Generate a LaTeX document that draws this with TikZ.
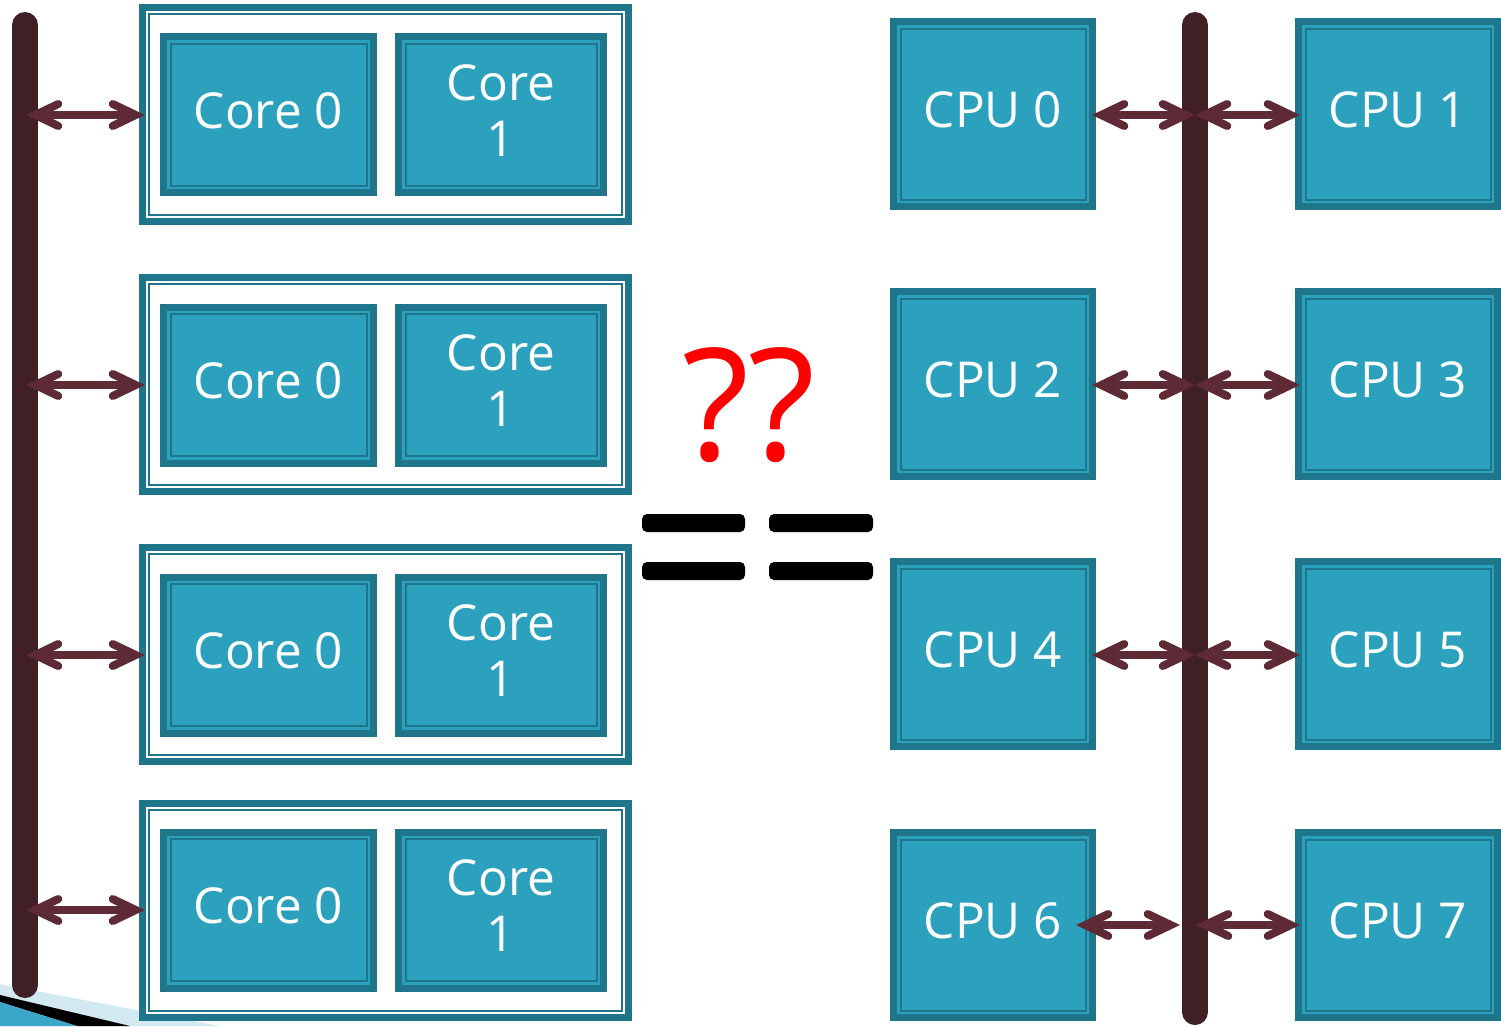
\documentclass[tikz,border=0pt]{standalone}
\usepackage{fontspec}
\setmainfont{Open Sans}
\usetikzlibrary{arrows.meta,calc}

\definecolor{boxfill}{RGB}{44,161,190}
\definecolor{boxedge}{RGB}{31,117,138}
\definecolor{linkcol}{RGB}{94,42,54}
\definecolor{buscol}{RGB}{64,31,37}
\definecolor{swooshlight}{RGB}{211,233,241}
\definecolor{swooshblue}{RGB}{58,166,200}

\tikzset{
  % teal box: thick outer border plus a thin inner rule
  unitbox/.style={draw=boxedge, fill=boxfill, line width=7pt, text=white,
    font=\fontsize{49.5}{56}\selectfont, align=center, inner sep=0pt, text depth=8pt,
    path picture={\draw[boxedge, line width=2pt]
      ($(path picture bounding box.north west)+(7pt,-7pt)$) rectangle
      ($(path picture bounding box.south east)+(-7pt,7pt)$);}},
  corebox/.style={unitbox, minimum height=156pt},
  cpubox/.style={unitbox, minimum width=199pt, minimum height=185pt},
  % white package frame: thick border and a thin rule just inside
  groupbox/.style={draw=boxedge, fill=white, line width=7pt, inner sep=0pt,
    minimum width=486pt, minimum height=214pt,
    path picture={\draw[boxedge, line width=2pt]
      ($(path picture bounding box.north west)+(6.5pt,-6.5pt)$) rectangle
      ($(path picture bounding box.south east)+(-6.5pt,6.5pt)$);}},
  bus/.style={buscol, line width=26pt, line cap=round},
  linkbarb/.tip={Straight Barb[length=23pt, width=22pt, line cap=round, line join=miter]},
  link/.style={linkcol, line width=8pt, {linkbarb}-{linkbarb}},
  bar/.style={black, rounded corners=5pt}
}

\begin{document}
\begin{tikzpicture}[x=1pt, y=-1pt]
  \fill[white] (0,0) rectangle (1501,1026);
  \useasboundingbox (0,0) rectangle (1501,1026);

  % slide corner swoosh
  \fill[swooshlight] (0,984) -- (220,1026) -- (0,1026) -- cycle;
  \fill[black] (0,995) -- (130,1026) -- (77,1026) -- (0,1002) -- cycle;
  \fill[swooshblue] (0,1002) -- (77,1026) -- (0,1026) -- cycle;

  % buses
  \draw[bus] (25,25) -- (25,985);
  \draw[bus] (1195,25) -- (1195,1012);

  % dual-core packages
  \foreach \r/\gy/\cy in {1/114.5/114.5, 2/384.5/385, 3/654.5/655, 4/910/910} {
    \node[groupbox] (grp\r) at (385.5,\gy) {};
    \node[corebox, minimum width=210pt] (corezero\r) at (268.5,\cy) {Core 0};
    \node[corebox, minimum width=205pt] (coreone\r) at (501,\cy) {Core\\1};
  }

  % single CPUs
  \foreach \n/\x/\y in {0/993/114, 1/1398/114, 2/993/384, 3/1398/384,
                        4/993/654, 5/1398/654, 6/993/925, 7/1398/925}
    \node[cpubox] (cpu\n) at (\x,\y) {CPU \n};

  % question and equals sign
  \node[text=red, font=\fontsize{156}{156}\selectfont, anchor=base, inner sep=0pt] (ask) at (749,460) {??};
  \fill[bar] (642,514) rectangle (745,532);
  \fill[bar] (769,514) rectangle (873,532);
  \fill[bar] (642,562) rectangle (745,580);
  \fill[bar] (769,562) rectangle (873,580);

  % links from the left bus to the packages
  \foreach \r/\y in {1/115, 2/385, 3/655, 4/910} {
    \coordinate (lbus\r) at (26,\y);
    \draw[link, shorten >=-6pt] (lbus\r) -- (lbus\r -| grp\r.west);
  }

  % links from the right bus to the CPUs
  \foreach \r/\a/\b/\y in {1/0/1/115, 2/2/3/385, 3/4/5/655} {
    \coordinate (rbus\r) at (1195,\y);
    \draw[link, shorten <=-4pt] (rbus\r -| cpu\a.east) -- (rbus\r);
    \draw[link, shorten >=-5pt] (rbus\r) -- (rbus\r -| cpu\b.west);
  }
  \coordinate (rbus4) at (1195,925);
  \draw[link, shorten <=-20pt, shorten >=15pt] (rbus4 -| cpu6.east) -- (rbus4);
  \draw[link, shorten <=1pt, shorten >=-5pt] (rbus4) -- (rbus4 -| cpu7.west);
\end{tikzpicture}
\end{document}
